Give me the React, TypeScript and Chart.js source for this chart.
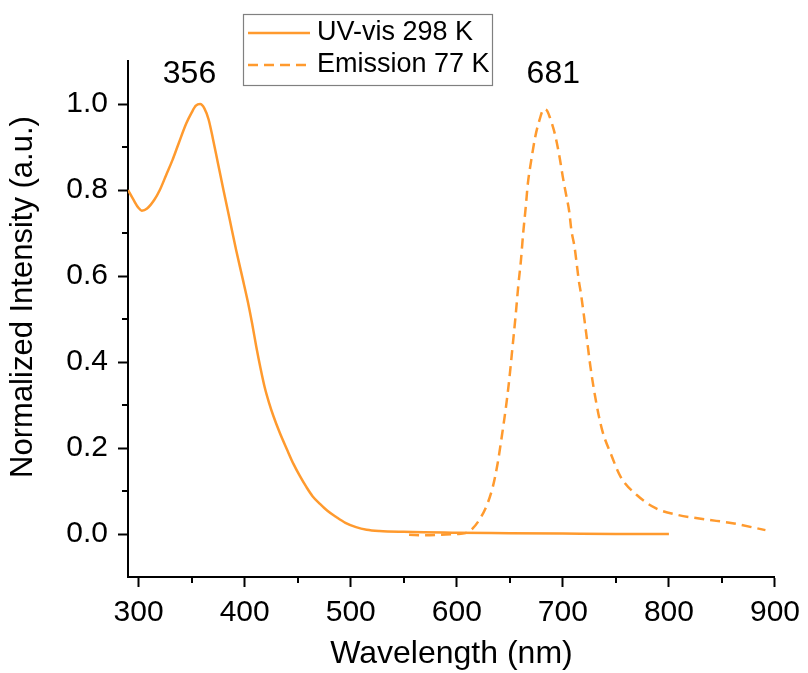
import { useEffect, useRef } from "react";
import { Chart, registerables } from "chart.js";

Chart.register(...registerables);

// UV-vis absorption at 298 K
const uvWavelength = [
  290, 295, 300, 303, 308, 315, 320, 326, 332, 338, 345, 350, 354, 358, 362, 366,
  370, 375, 380, 386, 392, 398, 403, 407, 411, 415, 419, 423, 427, 433, 440, 446, 452,
  458, 464, 471, 478, 486, 495, 505, 515, 527, 550, 600, 650, 700, 750, 800,
];
const uvIntensity = [
  0.8, 0.778, 0.758, 0.752, 0.757, 0.778, 0.8, 0.835, 0.87, 0.91, 0.955, 0.98, 0.996, 1.0, 0.99, 0.964,
  0.92, 0.86, 0.8, 0.73, 0.66, 0.595, 0.54, 0.49, 0.435, 0.385, 0.34, 0.305, 0.275, 0.236, 0.196, 0.163, 0.135,
  0.11, 0.088, 0.07, 0.054, 0.04, 0.026, 0.016, 0.01, 0.007, 0.005, 0.003, 0.002, 0.001, 0.0, 0.0,
];

// Emission at 77 K
const emWavelength = [
  555, 570, 585, 600, 608, 615, 623, 629, 634, 638.5, 642.5, 646.5, 649.5, 652.6, 655.7, 658,
  660.5, 662.6, 665, 667, 670, 674, 678, 682, 685, 687, 690, 693, 697, 700, 703, 706,
  708, 711, 713, 715, 717, 722, 726, 731, 737, 745, 754.5, 770, 787.5, 809, 834.5, 860, 891,
];
const emIntensity = [
  -0.002, -0.003, -0.002, 0.0, 0.002, 0.013, 0.04, 0.071, 0.11, 0.164, 0.228, 0.298, 0.36, 0.436, 0.514, 0.578,
  0.637, 0.7, 0.76, 0.815, 0.866, 0.924, 0.963, 0.988, 0.985, 0.974, 0.952, 0.925, 0.875, 0.83, 0.79, 0.75,
  0.707, 0.668, 0.63, 0.59, 0.56, 0.467, 0.389, 0.312, 0.242, 0.188, 0.133, 0.09, 0.06, 0.044, 0.034, 0.025, 0.009,
];

const seriesLabels = ["UV-vis 298 K", "Emission 77 K"];
const xTicks = [300, 400, 500, 600, 700, 800, 900];
const xMinorTicks = [350, 450, 550, 650, 750, 850];
const yTicks = [0.0, 0.2, 0.4, 0.6, 0.8, 1.0];
const yMinorTicks = [0.1, 0.3, 0.5, 0.7, 0.9];
const peakLabels = ["356", "681"];
const peakLabelAt = [348, 691];
const peakLabelLevel = 1.07;

const ORANGE = "#ff9a2e";
const FONT = '"Liberation Sans", Arial, sans-serif';

const overlayPlugin = {
  id: "overlay",
  afterDraw(chart: any) {
    const ctx = chart.ctx as CanvasRenderingContext2D;
    const xs = chart.scales.x;
    const ys = chart.scales.y;
    ctx.save();
    // minor ticks
    ctx.strokeStyle = "#000";
    ctx.lineWidth = 2;
    ctx.setLineDash([]);
    ctx.beginPath();
    for (const v of xMinorTicks) {
      const px = Math.round(xs.getPixelForValue(v));
      ctx.moveTo(px, ys.bottom);
      ctx.lineTo(px, ys.bottom + 6);
    }
    for (const v of yMinorTicks) {
      const py = Math.round(ys.getPixelForValue(v));
      ctx.moveTo(xs.left, py);
      ctx.lineTo(xs.left - 6, py);
    }
    ctx.stroke();

    // peak labels
    ctx.fillStyle = "#000";
    ctx.font = `32px ${FONT}`;
    ctx.textAlign = "center";
    ctx.textBaseline = "middle";
    peakLabels.forEach((t, i) => {
      ctx.fillText(t, xs.getPixelForValue(peakLabelAt[i]), ys.getPixelForValue(peakLabelLevel));
    });

    // y axis title
    ctx.save();
    ctx.translate(23, 297);
    ctx.rotate(-Math.PI / 2);
    ctx.font = `31px ${FONT}`;
    ctx.fillText("Normalized Intensity (a.u.)", 0, 0);
    ctx.restore();

    // legend
    ctx.fillStyle = "#fff";
    ctx.fillRect(243, 14, 249, 71);
    ctx.strokeStyle = "#808080";
    ctx.lineWidth = 1.2;
    ctx.strokeRect(243.5, 14.5, 249, 71);
    ctx.font = `27px ${FONT}`;
    ctx.textAlign = "left";
    chart.data.datasets.forEach((ds: any, i: number) => {
      const y = 33 + i * 32;
      ctx.strokeStyle = ds.borderColor;
      ctx.lineWidth = ds.borderWidth;
      ctx.setLineDash(ds.borderDash || []);
      ctx.beginPath();
      ctx.moveTo(248, y);
      ctx.lineTo(310, y);
      ctx.stroke();
      ctx.setLineDash([]);
      ctx.fillStyle = "#000";
      ctx.fillText(ds.label, 317, y);
    });
    ctx.restore();
  },
};

export default function App() {
  const ref = useRef<HTMLCanvasElement>(null);
  useEffect(() => {
    if (!ref.current) return;
    const chart = new Chart(ref.current, {
      type: "line",
      data: {
        datasets: [
          {
            label: seriesLabels[0],
            data: uvWavelength.map((x, i) => ({ x, y: uvIntensity[i] })),
            borderColor: ORANGE,
            borderWidth: 2.5,
            pointRadius: 0,
            cubicInterpolationMode: "monotone",
            fill: false,
          },
          {
            label: seriesLabels[1],
            data: emWavelength.map((x, i) => ({ x, y: emIntensity[i] })),
            borderColor: ORANGE,
            borderWidth: 2.5,
            borderDash: [10, 6],
            pointRadius: 0,
            cubicInterpolationMode: "monotone",
            fill: false,
          },
        ],
      },
      options: {
        animation: false,
        responsive: false,
        layout: { padding: { top: 61, right: 31, left: 0, bottom: 0 } },
        plugins: { legend: { display: false }, tooltip: { enabled: false } },
        scales: {
          x: {
            type: "linear",
            min: 290,
            max: 900,
            afterBuildTicks: (s: any) => {
              s.ticks = xTicks.map((v) => ({ value: v }));
            },
            afterFit: (s: any) => {
              s.height = 96;
            },
            ticks: {
              color: "#000",
              font: { family: FONT, size: 30 },
              padding: 8,
              maxRotation: 0,
              autoSkip: false,
              callback: (v: any) => String(v),
            },
            grid: {
              display: true,
              drawOnChartArea: false,
              drawTicks: true,
              tickLength: 10,
              tickWidth: 2,
              tickColor: "#000",
            },
            border: { display: true, color: "#000", width: 2 },
            title: {
              display: true,
              text: "Wavelength (nm)",
              color: "#000",
              font: { family: FONT, size: 32 },
              padding: { top: 0, bottom: 0 },
            },
          },
          y: {
            type: "linear",
            min: -0.1,
            max: 1.1,
            afterBuildTicks: (s: any) => {
              s.ticks = yTicks.map((v) => ({ value: v }));
            },
            afterFit: (s: any) => {
              s.width = 128;
            },
            ticks: {
              color: "#000",
              font: { family: FONT, size: 30 },
              padding: 10,
              autoSkip: false,
              callback: (v: any) => Number(v).toFixed(1),
            },
            grid: {
              display: true,
              drawOnChartArea: false,
              drawTicks: true,
              tickLength: 10,
              tickWidth: 2,
              tickColor: "#000",
            },
            border: { display: true, color: "#000", width: 2 },
          },
        },
      },
      plugins: [overlayPlugin],
    });
    return () => chart.destroy();
  }, []);

  return (
    <div style={{ position: "fixed", left: 0, top: 0, width: 808, height: 673, background: "#fff" }}>
      <canvas ref={ref} width={808} height={673} style={{ display: "block" }} />
    </div>
  );
}
